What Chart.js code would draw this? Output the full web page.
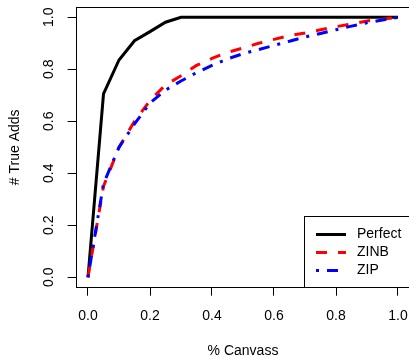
<!DOCTYPE html>
<html lang="en">
<head>
<meta charset="UTF-8">
<title># True Adds vs % Canvass</title>
<style>
    body {
        margin: 0;
        padding: 0;
        background: #fff;
        overflow: hidden;
    }
    canvas {
        display: block;
    }
</style>
</head>
<body>
<canvas id="myChart" width="412" height="357"></canvas>

<script src="https://cdn.jsdelivr.net/npm/chart.js"></script>
<script>
    // data
    var pctCanvass = [0, 0.05, 0.1, 0.15, 0.2, 0.25, 0.3, 0.35, 0.4, 0.45, 0.5,
                      0.55, 0.6, 0.65, 0.7, 0.75, 0.8, 0.85, 0.9, 0.95, 1];
    var perfect = [0, 0.705, 0.836, 0.91, 0.945, 0.981, 1, 1, 1, 1, 1,
                   1, 1, 1, 1, 1, 1, 1, 1, 1, 1];
    var zinb = [0, 0.35, 0.5, 0.6, 0.68, 0.74, 0.775, 0.815, 0.842, 0.865, 0.882,
                0.9, 0.915, 0.93, 0.94, 0.952, 0.964, 0.974, 0.986, 0.993, 1];
    var zip = [0, 0.36, 0.5, 0.59, 0.67, 0.72, 0.755, 0.787, 0.815, 0.84, 0.86,
               0.876, 0.892, 0.908, 0.924, 0.938, 0.952, 0.966, 0.979, 0.99, 1];
    var xTicks = [0, 0.2, 0.4, 0.6, 0.8, 1];
    var yTicks = [0, 0.2, 0.4, 0.6, 0.8, 1];

    var FONT = '14px "Liberation Sans", Arial, sans-serif';

    function pts(ys) {
        return pctCanvass.map(function (x, i) { return { x: x, y: ys[i] }; });
    }

    // box, tick labels, axis titles and legend, R style
    var rStyle = {
        id: 'rStyle',
        afterDraw: function (chart) {
            var ctx = chart.ctx;
            var a = chart.chartArea;
            var xs = chart.scales.x;
            var ys = chart.scales.y;
            ctx.save();
            ctx.strokeStyle = '#000';
            ctx.lineWidth = 1;
            ctx.strokeRect(Math.round(a.left) + 0.5, Math.round(a.top) + 0.5,
                           Math.round(a.right - a.left), Math.round(a.bottom - a.top) - 1);

            ctx.fillStyle = '#000';
            ctx.font = FONT;
            ctx.textAlign = 'center';
            ctx.textBaseline = 'middle';
            xTicks.forEach(function (v) {
                ctx.fillText(v.toFixed(1), xs.getPixelForValue(v), 316);
            });
            yTicks.forEach(function (v) {
                ctx.save();
                ctx.translate(49, ys.getPixelForValue(v));
                ctx.rotate(-Math.PI / 2);
                ctx.fillText(v.toFixed(1), 0, 0);
                ctx.restore();
            });

            ctx.save();
            ctx.translate(15, (a.top + a.bottom) / 2);
            ctx.rotate(-Math.PI / 2);
            ctx.fillText('# True Adds', 0, 0);
            ctx.restore();
            ctx.fillText('% Canvass', (a.left + a.right) / 2, 351);

            // legend
            var lx = 304.5, ly = 216.5;
            ctx.fillStyle = '#fff';
            ctx.fillRect(lx, ly, 120, Math.round(a.bottom) - ly);
            ctx.strokeRect(lx, ly, 120, Math.round(a.bottom) - 0.5 - ly);
            ctx.textAlign = 'left';
            chart.data.datasets.forEach(function (ds, i) {
                var y = 234.5 + i * 18;
                ctx.beginPath();
                ctx.strokeStyle = ds.borderColor;
                ctx.lineWidth = ds.borderWidth;
                ctx.setLineDash(ds.borderDash || []);
                ctx.moveTo(316, y);
                ctx.lineTo(346, y);
                ctx.stroke();
                ctx.setLineDash([]);
                ctx.fillStyle = '#000';
                ctx.fillText(ds.label, 357, y);
            });
            ctx.restore();
        }
    };

    var ctx = document.getElementById('myChart').getContext('2d');
    var myChart = new Chart(ctx, {
        type: 'scatter',
        data: {
            datasets: [
                {
                    label: 'Perfect',
                    data: pts(perfect),
                    borderColor: '#000',
                    borderWidth: 3,
                    order: 3
                },
                {
                    label: 'ZINB',
                    data: pts(zinb),
                    borderColor: '#ff0000',
                    borderWidth: 3,
                    borderDash: [11, 11],
                    order: 2
                },
                {
                    label: 'ZIP',
                    data: pts(zip),
                    borderColor: '#0000ff',
                    borderWidth: 3,
                    borderDash: [3, 8, 11, 8],
                    order: 1
                }
            ]
        },
        options: {
            responsive: false,
            animation: false,
            showLine: true,
            elements: {
                point: { radius: 0 },
                line: { tension: 0, fill: false }
            },
            layout: {
                padding: { top: 6.9, right: 1.6, left: 0, bottom: 0 }
            },
            plugins: {
                legend: { display: false },
                tooltip: { enabled: false }
            },
            scales: {
                x: {
                    type: 'linear',
                    min: -0.04,
                    max: 1.04,
                    afterBuildTicks: function (s) {
                        s.ticks = xTicks.map(function (v) { return { value: v }; });
                    },
                    afterFit: function (s) { s.height = 357 - 287.7; },
                    border: { display: false },
                    grid: { drawOnChartArea: false, tickLength: 8, color: '#000' },
                    ticks: { display: false }
                },
                y: {
                    type: 'linear',
                    min: -0.04,
                    max: 1.04,
                    afterBuildTicks: function (s) {
                        s.ticks = yTicks.map(function (v) { return { value: v }; });
                    },
                    afterFit: function (s) { s.width = 75.6; },
                    border: { display: false },
                    grid: { drawOnChartArea: false, tickLength: 8, color: '#000' },
                    ticks: { display: false }
                }
            }
        },
        plugins: [rStyle]
    });
</script>
</body>
</html>
